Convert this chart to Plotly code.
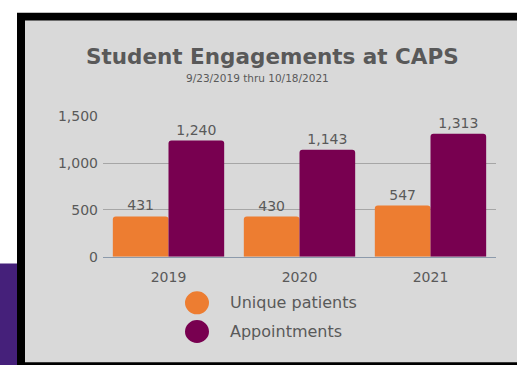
import plotly.graph_objects as go

years = ["2019", "2020", "2021"]
series_names = ["Unique patients", "Appointments"]
unique_patients = [431, 430, 547]
appointments = [1240, 1143, 1313]
y_ticks = [0, 500, 1000, 1500]

W, H = 517, 373
ORANGE = "#ED7D31"
PURPLE = "#780050"
TXT = "#595959"
FONT = "DejaVu Sans"


def px(x):
    return x / W


def py(y):
    return 1 - y / H


fig = go.Figure()
for name, vals, col in [(series_names[0], unique_patients, ORANGE),
                        (series_names[1], appointments, PURPLE)]:
    fig.add_trace(go.Bar(
        x=years, y=vals, name=name, marker=dict(color=col, line=dict(width=0)),
        text=[f"{v:,}" for v in vals], textposition="outside",
        textfont=dict(color=TXT, size=14, family=FONT),
        cliponaxis=False, showlegend=False,
    ))

shapes = [
    dict(type="rect", xref="paper", yref="paper", x0=px(17), x1=px(517), y0=py(373), y1=py(5),
         fillcolor="black", line=dict(width=0), layer="below"),
    dict(type="rect", xref="paper", yref="paper", x0=px(25), x1=px(517), y0=py(370), y1=py(13),
         fillcolor="#d9d9d9", line=dict(width=0), layer="below"),
    dict(type="rect", xref="paper", yref="paper", x0=px(0), x1=px(17), y0=py(373), y1=py(267),
         fillcolor="#45207A", line=dict(width=0), layer="below"),
]
annotations = [
    dict(text="<b>Student Engagements at CAPS</b>", x=px(272), y=py(51), xref="paper", yref="paper",
         showarrow=False, font=dict(size=21.5, color=TXT, family=FONT), xanchor="center", yanchor="middle"),
    dict(text="9/23/2019 thru 10/18/2021", x=px(257), y=py(73), xref="paper", yref="paper",
         showarrow=False, font=dict(size=10.5, color=TXT, family=FONT), xanchor="center", yanchor="middle"),
]
for i, (name, col) in enumerate(zip(series_names, [ORANGE, PURPLE])):
    cy = 308 + 30 * i
    shapes.append(dict(type="circle", xref="paper", yref="paper",
                       x0=px(197 - 12), x1=px(197 + 12), y0=py(cy + 12), y1=py(cy - 12),
                       fillcolor=col, line=dict(width=0)))
    annotations.append(dict(text=name, x=px(228), y=py(cy), xref="paper", yref="paper",
                            showarrow=False, xanchor="left", yanchor="middle",
                            font=dict(size=16, color=TXT, family=FONT)))

fig.update_layout(
    width=W, height=H, margin=dict(l=0, r=0, t=0, b=0),
    paper_bgcolor="white", plot_bgcolor="rgba(0,0,0,0)",
    barmode="group", bargap=0.15, bargroupgap=0, barcornerradius=3,
    shapes=shapes, annotations=annotations,
    xaxis=dict(domain=[px(103), px(496)], showgrid=False, showline=True, linecolor="#8c9aab", linewidth=1,
               tickfont=dict(size=14, color=TXT, family=FONT), ticks="", ticklabelstandoff=7),
    yaxis=dict(domain=[py(260), py(113)], range=[0, 1500], tickvals=y_ticks, tickformat=",",
               showgrid=True, gridcolor="#a6a6a6", gridwidth=1, zeroline=False,
               tickfont=dict(size=14, color=TXT, family=FONT), ticks="", ticklabelstandoff=4),
    showlegend=False,
)

fig.write_html("out.html")
